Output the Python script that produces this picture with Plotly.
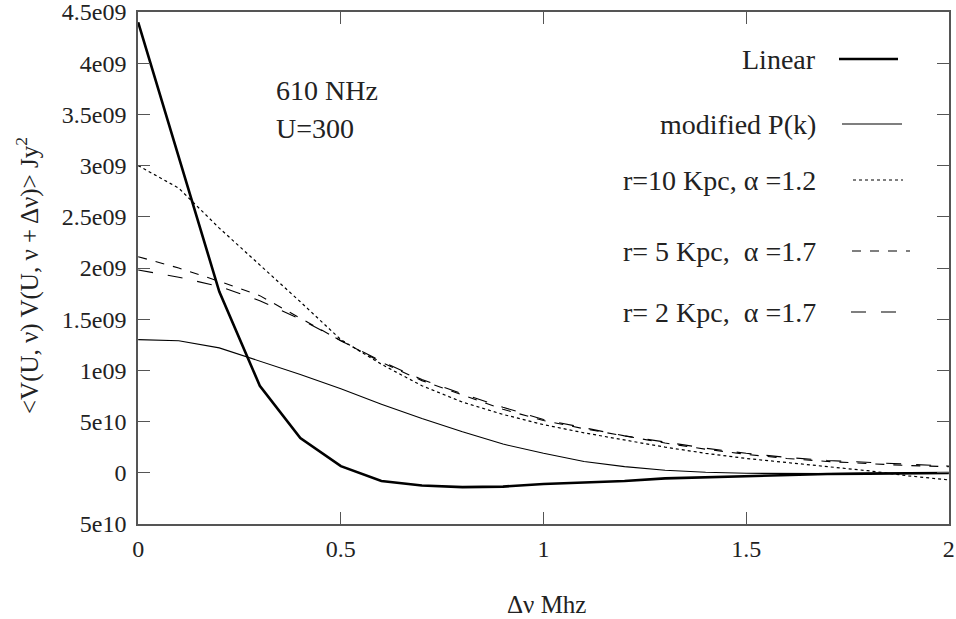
import plotly.graph_objects as go

# frequency separation (MHz)
dnu = [0.0, 0.1, 0.2, 0.3, 0.4, 0.5, 0.6, 0.7, 0.8, 0.9, 1.0,
       1.1, 1.2, 1.3, 1.4, 1.5, 1.6, 1.7, 1.8, 1.9, 2.0]

# correlation, units of 1e9 Jy^2
linear = [4.40, 3.08, 1.77, 0.85, 0.34, 0.065, -0.08, -0.125, -0.14, -0.135, -0.11,
          -0.095, -0.08, -0.055, -0.045, -0.03, -0.02, -0.012, -0.008, -0.005, -0.003]
modified_pk = [1.30, 1.29, 1.22, 1.09, 0.96, 0.82, 0.67, 0.53, 0.40, 0.28, 0.19,
               0.11, 0.06, 0.025, 0.005, -0.005, -0.01, -0.008, -0.005, -0.003, -0.002]
r10_a12 = [3.00, 2.78, 2.39, 2.03, 1.67, 1.30, 1.06, 0.85, 0.69, 0.57, 0.47,
           0.39, 0.32, 0.25, 0.19, 0.14, 0.10, 0.06, 0.02, -0.03, -0.07]
r5_a17 = [2.11, 2.00, 1.87, 1.73, 1.51, 1.29, 1.08, 0.90, 0.76, 0.62, 0.51,
          0.43, 0.36, 0.29, 0.23, 0.18, 0.14, 0.11, 0.09, 0.07, 0.06]
r2_a17 = [1.98, 1.91, 1.82, 1.68, 1.50, 1.29, 1.09, 0.91, 0.77, 0.64, 0.52,
          0.44, 0.36, 0.30, 0.24, 0.19, 0.15, 0.12, 0.10, 0.08, 0.065]

ytick_vals = [-0.5, 0, 0.5, 1, 1.5, 2, 2.5, 3, 3.5, 4, 4.5]
ytick_text = ["5e10", "0", "5e10", "1e09", "1.5e09", "2e09", "2.5e09",
              "3e09", "3.5e09", "4e09", "4.5e09"]
xtick_vals = [0, 0.5, 1, 1.5, 2]
xtick_text = ["0", "0.5", "1", "1.5", "2"]

FONT = "Liberation Serif"
INK = "#222222"
AXIS = "#555555"

W, H = 956, 619
L, R, T, B = 138, 7, 12, 95
pw, ph = W - L - R, H - T - B


def px(x):
    # screen pixel -> paper fraction
    return (x - L) / pw


def py(y):
    return (H - B - y) / ph


series = [
    ("Linear", linear, 2.6, "solid", 59, 839, 898),
    ("modified P(k)", modified_pk, 1.1, "solid", 124, 842, 902),
    ("r=10 Kpc, \u03b1 =1.2", r10_a12, 1.2, "dot", 180, 853, 903),
    ("r= 5 Kpc,  \u03b1 =1.7", r5_a17, 1.1, "dash", 251, 852, 910),
    ("r= 2 Kpc,  \u03b1 =1.7", r2_a17, 1.1, "longdash", 312, 851, 910),
]

fig = go.Figure()
shapes = []
annotations = []
for name, ys, lw, dash, ly, x0, x1 in series:
    fig.add_trace(go.Scatter(x=dnu, y=ys, mode="lines", name=name,
                             line=dict(color="black", width=lw, dash=dash),
                             showlegend=False))
    # gnuplot style key: text right aligned, line sample to its right
    shapes.append(dict(type="line", xref="paper", yref="paper",
                       x0=px(x0), x1=px(x1), y0=py(ly), y1=py(ly),
                       line=dict(color="black", width=lw, dash=dash)))
    annotations.append(dict(text=name, xref="paper", yref="paper",
                            x=px(818), y=py(ly), xanchor="right", yanchor="middle",
                            showarrow=False, font=dict(size=28, family=FONT, color=INK)))

annotations += [
    dict(text="610 NHz", xref="paper", yref="paper", x=px(274), y=py(90),
         xanchor="left", yanchor="middle", showarrow=False,
         font=dict(size=28, family=FONT, color=INK)),
    dict(text="U=300", xref="paper", yref="paper", x=px(274), y=py(128),
         xanchor="left", yanchor="middle", showarrow=False,
         font=dict(size=28, family=FONT, color=INK)),
    dict(text="<V(U, \u03bd) V(U, \u03bd + \u0394\u03bd)> Jy<sup>2</sup>",
         xref="paper", yref="paper", x=px(27), y=py(276), textangle=-90,
         xanchor="center", yanchor="middle", showarrow=False,
         font=dict(size=25, family=FONT, color=INK)),
    dict(text="\u0394\u03bd Mhz", xref="paper", yref="paper", x=px(546), y=py(604),
         xanchor="center", yanchor="middle", showarrow=False,
         font=dict(size=25, family=FONT, color=INK)),
]

axis_common = dict(showgrid=False, zeroline=False, showline=True, linecolor=AXIS,
                   linewidth=1.5, mirror="ticks", ticks="inside", ticklen=12,
                   tickcolor=AXIS, tickwidth=1.2, ticklabeloverflow="allow",
                   automargin=False,
                   tickfont=dict(size=24, family=FONT, color=INK))

fig.update_layout(
    width=W, height=H,
    margin=dict(l=L, r=R, t=T, b=B, autoexpand=False),
    paper_bgcolor="white", plot_bgcolor="white",
    font=dict(family=FONT, color=INK),
    xaxis=dict(range=[-0.0005, 2.0005], tickmode="array", tickvals=xtick_vals,
               ticktext=xtick_text, ticklabelstandoff=2, **axis_common),
    yaxis=dict(range=[-0.5005, 4.5005], tickmode="array", tickvals=ytick_vals,
               ticktext=ytick_text, ticklabelstandoff=5, **axis_common),
    shapes=shapes,
    annotations=annotations,
)

# drop the default 8px body margin so the figure fills the window
fig.write_html("out.html", config={"displayModeBar": False},
               post_script="document.body.style.margin = '0';")
